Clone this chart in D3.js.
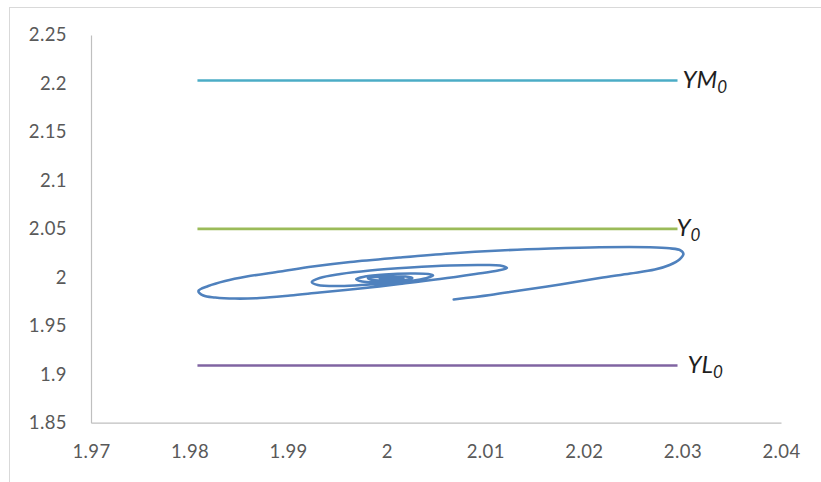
<!DOCTYPE html>
<html>
<head>
<meta charset="utf-8">
<script src="https://cdn.jsdelivr.net/npm/d3@7"></script>
<style>
  html, body { margin: 0; padding: 0; background: #ffffff; }
  svg { display: block; }
  .tick text { font-family: Lato, "Open Sans", sans-serif; fill: #595959; }
  .lbl { font-family: Lato, "Open Sans", sans-serif; font-style: italic; fill: #1f1f1f; }
</style>
</head>
<body>
<svg id="chart" width="821" height="482"></svg>
<script>
// Axis ticks
const xTicks = [1.97, 1.98, 1.99, 2.00, 2.01, 2.02, 2.03, 2.04];
const yTicks = [1.85, 1.90, 1.95, 2.00, 2.05, 2.10, 2.15, 2.20, 2.25];

// Trajectory (x, y), spiralling in towards the equilibrium (2, 2)
const trajX = [
  2.0068, 2.0105, 2.0135, 2.0176, 2.0216, 2.0247, 2.0272, 2.0287, 2.0297, 2.0301,
  2.0298, 2.0287, 2.0267, 2.0216, 2.0166, 2.0115, 2.0064, 2.0013, 1.9963, 1.9925,
  1.9892, 1.9858, 1.9836, 1.9819, 1.9809, 1.9814, 1.9826, 1.9846, 1.9871, 1.9902,
  1.9932, 1.9973, 2.0013, 2.0054, 2.0090, 2.0113, 2.0122,
  2.0115, 2.0095, 2.0064, 2.0024,
  1.9983, 1.9953, 1.9932, 1.9924, 1.9930, 1.9953, 1.9983, 2.0013, 2.0034, 2.0044,
  2.0047, 2.0042, 2.0024, 1.9998, 1.9978, 1.9969, 1.9975, 1.9998, 2.0019, 2.0026,
  2.0019, 1.9998, 1.9981, 1.9985, 2.0005, 2.0017, 2.0011, 1.9998, 1.9993, 2.0003,
  2.0008
];
const trajY = [
  1.9771, 1.9817, 1.9864, 1.9926, 1.9993, 2.0039, 2.0080, 2.0127, 2.0184, 2.0240,
  2.0279, 2.0299, 2.0310, 2.0310, 2.0297, 2.0277, 2.0246, 2.0204, 2.0158, 2.0111,
  2.0060, 2.0008, 1.9962, 1.9910, 1.9859, 1.9812, 1.9792, 1.9781, 1.9786, 1.9812,
  1.9843, 1.9884, 1.9931, 1.9982, 2.0034, 2.0070, 2.0096,
  2.0122, 2.0127, 2.0122, 2.0101,
  2.0070, 2.0034, 1.9993, 1.9952, 1.9921, 1.9910, 1.9926, 1.9946, 1.9977, 2.0003,
  2.0019, 2.0034, 2.0039, 2.0029, 2.0008, 1.9982, 1.9957, 1.9952, 1.9972, 1.9993,
  2.0008, 2.0008, 1.9993, 1.9972, 1.9972, 1.9988, 1.9998, 1.9998, 1.9988, 1.9982,
  1.9993
];

// Reference levels
const levelNames = ["YM", "Y", "YL"];
const levelValues = [2.203, 2.050, 1.909];
const levelColors = ["#4bacc6", "#9bbb59", "#8064a2"];
const levelXStart = 1.9808;
const levelXEnd = 2.0295;

const svg = d3.select("#chart");

// Outer chart frame
svg.append("rect")
  .attr("x", 9.5).attr("y", 7.5)
  .attr("width", 840).attr("height", 500)
  .attr("fill", "none").attr("stroke", "#d9d9d9");

const x = d3.scaleLinear().domain([1.97, 2.04]).range([91, 781]);
const y = d3.scaleLinear().domain([1.85, 2.25]).range([422.7, 35]);

const fmt = d => String(+d.toFixed(2));

const gx = svg.append("g")
  .attr("transform", `translate(0,${y(1.85)})`)
  .call(d3.axisBottom(x).tickValues(xTicks).tickFormat(fmt).tickSize(0).tickPadding(22));
const gy = svg.append("g")
  .attr("transform", `translate(${x(1.97)},0)`)
  .call(d3.axisLeft(y).tickValues(yTicks).tickFormat(fmt).tickSize(0).tickPadding(24));

[gx, gy].forEach(g => {
  g.select(".domain").attr("stroke", "#bfbfbf").attr("stroke-width", 1.2);
  g.selectAll(".tick text").style("font-size", "18.5px").style("letter-spacing", "0.4px");
});

// Horizontal reference lines
levelValues.forEach((v, i) => {
  svg.append("line")
    .attr("x1", x(levelXStart)).attr("x2", x(levelXEnd))
    .attr("y1", y(v)).attr("y2", y(v))
    .attr("stroke", levelColors[i]).attr("stroke-width", 2.6);
});

// Line labels with subscript zero
const labelDx = [5, -1, 10];
levelValues.forEach((v, i) => {
  const t = svg.append("text")
    .attr("class", "lbl")
    .attr("x", x(levelXEnd) + labelDx[i])
    .attr("y", y(v) + 7.5)
    .style("font-size", "24px");
  t.append("tspan").text(levelNames[i]);
  t.append("tspan").attr("dy", 5).style("font-size", "17px").text("0");
});

// Trajectory
const pts = trajX.map((d, i) => [d, trajY[i]]);
svg.append("path")
  .datum(pts)
  .attr("fill", "none")
  .attr("stroke", "#4f81bd")
  .attr("stroke-width", 2.6)
  .attr("stroke-linejoin", "round")
  .attr("stroke-linecap", "round")
  .attr("d", d3.line().x(d => x(d[0])).y(d => y(d[1])).curve(d3.curveCatmullRom.alpha(0.5)));
</script>
</body>
</html>
